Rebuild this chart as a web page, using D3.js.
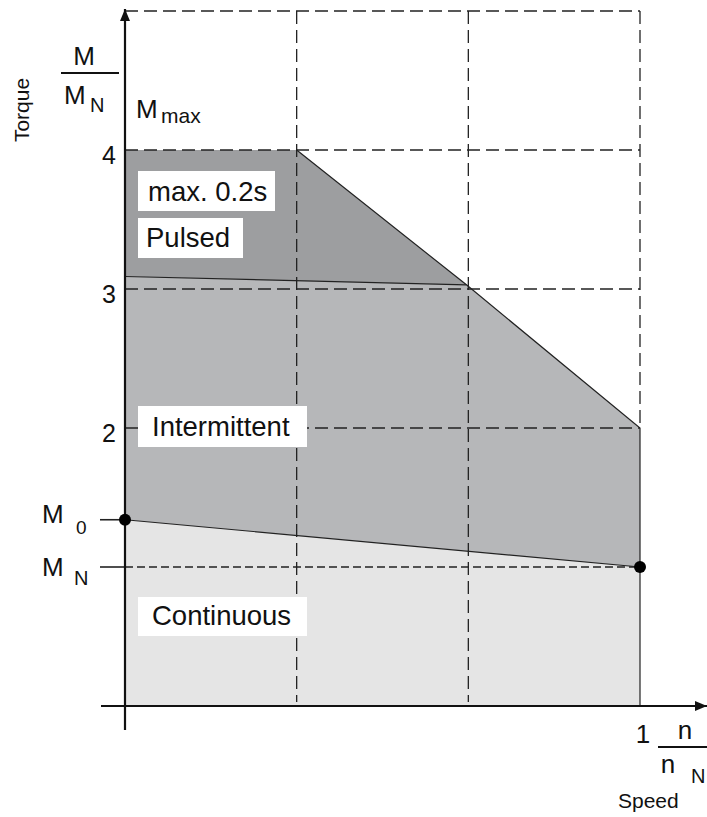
<!DOCTYPE html>
<html>
<head>
<meta charset="utf-8">
<script src="https://cdn.jsdelivr.net/npm/d3@7"></script>
<style>
  body { margin: 0; background: #fff; }
  text { font-family: "Liberation Sans", Arial, sans-serif; fill: #111; }
</style>
</head>
<body>
<svg id="chart"></svg>
<script>
// chart size
var width = 707;
var height = 817;

// operating regions, as [speed n/nN, torque M/MN]
const continuous = [[0, 0], [0, 1.34], [1, 1], [1, 0]];
const intermittent = [[0, 1.34], [0, 3.09], [0.663, 3.03], [1, 2], [1, 1]];
const pulsed = [[0, 3.09], [0, 4], [1/3, 4], [0.663, 3.03]];
// boundary lines drawn over the fills
const edges = [
  [[0, 3.09], [0.663, 3.03]],
  [[1/3, 4], [0.663, 3.03], [1, 2], [1, 0]],
  [[0, 1.34], [1, 1]]
];
const points = [[0, 1.34], [1, 1]];
// grid
const gridX = [1/3, 2/3];
const gridY = [5, 4, 3, 2];
const yTicks = [4, 3, 2];
const labels = ["max. 0.2s", "Pulsed", "Intermittent", "Continuous"];

var x = d3.scaleLinear().domain([0, 1]).range([125, 640]);
var y = d3.scaleLinear().domain([0, 5]).range([706, 11]);

var svg = d3.select('#chart').attr('width', width).attr('height', height);

var line = d3.line().x(d => x(d[0])).y(d => y(d[1]));
var poly = pts => line(pts) + 'Z';

svg.append('path').attr('d', poly(continuous)).attr('fill', '#e5e5e5');
svg.append('path').attr('d', poly(intermittent)).attr('fill', '#b6b7b9');
svg.append('path').attr('d', poly(pulsed)).attr('fill', '#9d9ea0');

// dashed grid
var grid = svg.append('g').attr('stroke', '#222').attr('stroke-width', 1.3)
    .attr('stroke-dasharray', '13,6').attr('fill', 'none');
gridX.forEach(v => {
  grid.append('line').attr('x1', x(v)).attr('x2', x(v)).attr('y1', y(5)).attr('y2', y(0) - 4);
});
grid.append('line').attr('x1', x(1)).attr('x2', x(1)).attr('y1', y(5)).attr('y2', y(2));
gridY.forEach(v => {
  grid.append('line').attr('x1', x(0)).attr('x2', x(1)).attr('y1', y(v)).attr('y2', y(v));
});
// M_N level
svg.append('line').attr('x1', x(0)).attr('x2', x(1)).attr('y1', y(1)).attr('y2', y(1))
    .attr('stroke', '#222').attr('stroke-width', 1.3).attr('stroke-dasharray', '8,4');
svg.append('line').attr('x1', 100).attr('x2', x(0)).attr('y1', y(1)).attr('y2', y(1))
    .attr('stroke', '#222').attr('stroke-width', 1.6);
svg.append('line').attr('x1', 100).attr('x2', x(0)).attr('y1', y(1.34)).attr('y2', y(1.34))
    .attr('stroke', '#222').attr('stroke-width', 1.6);

// region edges
edges.forEach(e => {
  svg.append('path').attr('d', line(e)).attr('fill', 'none')
     .attr('stroke', '#222').attr('stroke-width', 1.2);
});

// axes with arrows
svg.append('defs').append('marker').attr('id', 'arrow')
    .attr('viewBox', '0 0 12 10').attr('refX', 12).attr('refY', 5)
    .attr('markerUnits', 'userSpaceOnUse').attr('markerWidth', 12).attr('markerHeight', 10)
    .attr('orient', 'auto')
  .append('path').attr('d', 'M0,0L12,5L0,10Z').attr('fill', '#111');
svg.append('line').attr('x1', x(0)).attr('x2', x(0)).attr('y1', 730).attr('y2', 9)
    .attr('stroke', '#111').attr('stroke-width', 2.2).attr('marker-end', 'url(#arrow)');
svg.append('line').attr('x1', 101).attr('x2', 707).attr('y1', y(0)).attr('y2', y(0))
    .attr('stroke', '#111').attr('stroke-width', 2.2).attr('marker-end', 'url(#arrow)');

// dots
svg.selectAll('circle.pt').data(points).enter().append('circle')
    .attr('cx', d => x(d[0])).attr('cy', d => y(d[1])).attr('r', 6).attr('fill', '#000');

// tick labels
svg.selectAll('text.tick').data(yTicks).enter().append('text')
    .attr('x', 116).attr('y', d => y(d) + 14).attr('text-anchor', 'end')
    .style('font-size', '25px').text(d => d);

// label boxes
var boxes = [
  {x: 138, y: 171, w: 137, h: 40, tx: 148, ty: 201},
  {x: 138, y: 218, w: 105, h: 40, tx: 146, ty: 247},
  {x: 138, y: 406, w: 169, h: 41, tx: 152, ty: 436},
  {x: 138, y: 597, w: 169, h: 39, tx: 152, ty: 625}
];
labels.forEach((t, i) => {
  var b = boxes[i];
  svg.append('rect').attr('x', b.x).attr('y', b.y).attr('width', b.w).attr('height', b.h).attr('fill', '#fff');
  svg.append('text').attr('x', b.tx).attr('y', b.ty).style('font-size', '27.5px').text(t);
});

// y axis title M / M_N
svg.append('text').attr('x', 84).attr('y', 65).attr('text-anchor', 'middle').style('font-size', '26px').text('M');
svg.append('line').attr('x1', 61).attr('x2', 119).attr('y1', 73).attr('y2', 73).attr('stroke', '#111').attr('stroke-width', 2);
svg.append('text').attr('x', 64).attr('y', 104).style('font-size', '26px').text('M');
svg.append('text').attr('x', 90).attr('y', 112).style('font-size', '20px').text('N');
svg.append('text').attr('transform', 'translate(29,110) rotate(-90)').attr('text-anchor', 'middle')
    .style('font-size', '21px').text('Torque');

// M_max
svg.append('text').attr('x', 136).attr('y', 118).style('font-size', '26px').text('M');
svg.append('text').attr('x', 161).attr('y', 123).style('font-size', '21px').text('max');

// M_0 and M_N
svg.append('text').attr('x', 42).attr('y', 523).style('font-size', '26px').text('M');
svg.append('text').attr('x', 76).attr('y', 534).style('font-size', '19px').text('0');
svg.append('text').attr('x', 42).attr('y', 576).style('font-size', '26px').text('M');
svg.append('text').attr('x', 74).attr('y', 585).style('font-size', '20px').text('N');

// x axis title 1  n / n_N
svg.append('text').attr('x', 643).attr('y', 743).attr('text-anchor', 'middle').style('font-size', '26px').text('1');
svg.append('text').attr('x', 685).attr('y', 739).attr('text-anchor', 'middle').style('font-size', '26px').text('n');
svg.append('line').attr('x1', 658).attr('x2', 707).attr('y1', 747).attr('y2', 747).attr('stroke', '#111').attr('stroke-width', 2);
svg.append('text').attr('x', 668).attr('y', 773).attr('text-anchor', 'middle').style('font-size', '26px').text('n');
svg.append('text').attr('x', 691).attr('y', 783).style('font-size', '20px').text('N');
svg.append('text').attr('x', 618).attr('y', 808).style('font-size', '21px').text('Speed');
</script>
</body>
</html>
